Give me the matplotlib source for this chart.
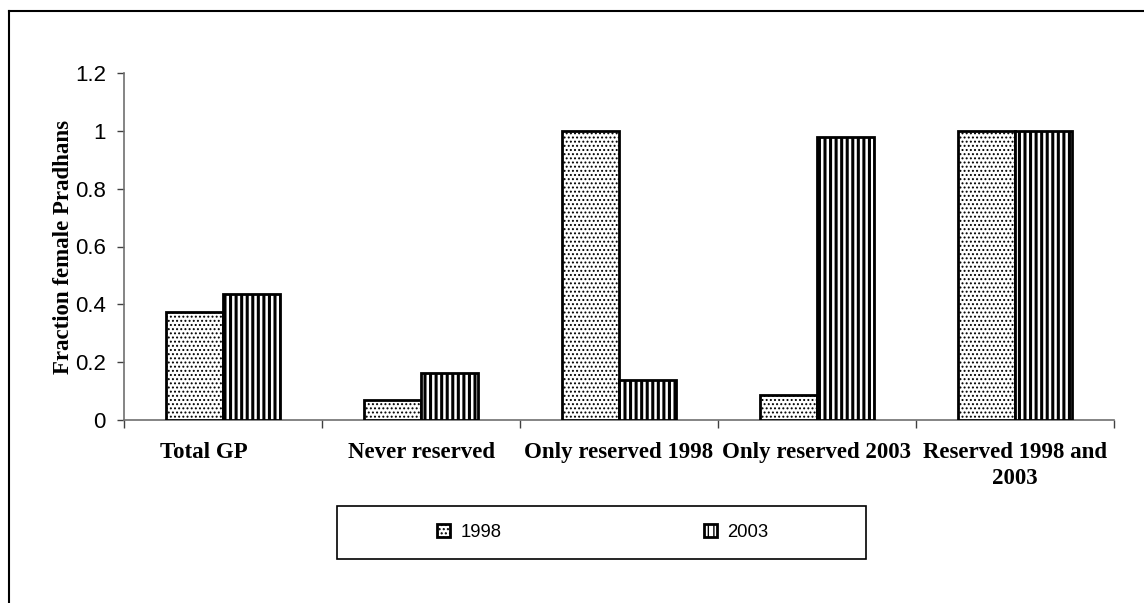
import matplotlib
matplotlib.use("Agg")
import matplotlib.pyplot as plt
from matplotlib.patches import Rectangle
from matplotlib.lines import Line2D
import numpy as np

categories = ["Total GP       ", "Never reserved", "Only reserved 1998", "Only reserved 2003", "Reserved 1998 and\n2003"]
vals_1998 = [0.375, 0.068, 1.0, 0.087, 1.0]
vals_2003 = [0.435, 0.163, 0.138, 0.98, 1.0]
series_labels = ["1998", "2003"]
yticks = [0, 0.2, 0.4, 0.6, 0.8, 1, 1.2]
ytick_labels = ["0", "0.2", "0.4", "0.6", "0.8", "1", "1.2"]

W, H = 1144, 603
fig = plt.figure(figsize=(W / 100, H / 100), dpi=100)
ax = fig.add_axes([124 / W, 1 - 420 / H, (1114 - 124) / W, (420 - 73) / H])

x = np.arange(len(categories))
bw = 0.29
b1 = ax.bar(x - bw / 2, vals_1998, bw, facecolor="white", edgecolor="black",
            linewidth=2, hatch="....", label=series_labels[0], zorder=3)
b2 = ax.bar(x + bw / 2, vals_2003, bw, facecolor="white", edgecolor="black",
            linewidth=2, hatch="|||", label=series_labels[1], zorder=3)
for p in b1:
    try:
        p.set_hatch_linewidth(0.9)
    except Exception:
        pass
for p in b2:
    try:
        p.set_hatch_linewidth(2.2)
    except Exception:
        pass

ax.set_xlim(-0.5, len(categories) - 0.5)
ax.set_ylim(0, 1.2)
ax.set_yticks(yticks)
ax.set_yticklabels(ytick_labels, fontfamily="Liberation Sans", fontsize=16)
ax.tick_params(axis="y", direction="out", length=5, width=1, color="#404040", pad=8)

# category ticks at boundaries, labels at centers
ax.set_xticks(np.arange(len(categories) + 1) - 0.5)
ax.set_xticklabels([])
ax.set_xticks(x, minor=True)
ax.set_xticklabels(categories, minor=True, fontfamily="Liberation Serif",
                   fontweight="bold", fontsize=16.5, linespacing=1.3)
ax.tick_params(axis="x", which="major", direction="out", length=6, width=1, color="#404040")
ax.tick_params(axis="x", which="minor", length=0, pad=16)

for s in ["top", "right"]:
    ax.spines[s].set_visible(False)
for s in ["left", "bottom"]:
    ax.spines[s].set_color("#707070")
    ax.spines[s].set_linewidth(1.2)

ax.set_ylabel("Fraction female Pradhans", fontfamily="Liberation Serif",
              fontweight="bold", fontsize=16.5)
ax.yaxis.set_label_coords((74 - 124) / (1114 - 124), 0.5)

# legend with its own box
leg_box = Rectangle((337 / W, 1 - 559 / H), (866 - 337) / W, 53 / H,
                    transform=fig.transFigure, facecolor="white",
                    edgecolor="black", linewidth=1.2)
fig.add_artist(leg_box)
leg = fig.legend(handles=[b1, b2], labels=series_labels, loc="center",
                 bbox_to_anchor=(603 / W, 1 - 532.5 / H), ncol=2, frameon=False,
                 prop={"family": "Liberation Sans", "size": 13.3},
                 handlelength=0.7, handleheight=0.7, handletextpad=0.55,
                 columnspacing=11)

# outer frame (top and left edges visible)
fig.add_artist(Line2D([9 / W, 9 / W], [0, 1 - 11 / H], transform=fig.transFigure,
                      color="black", linewidth=1.5))
fig.add_artist(Line2D([9 / W, 1], [1 - 11 / H, 1 - 11 / H], transform=fig.transFigure,
                      color="black", linewidth=1.5))

fig.savefig("out.png", dpi=100)
